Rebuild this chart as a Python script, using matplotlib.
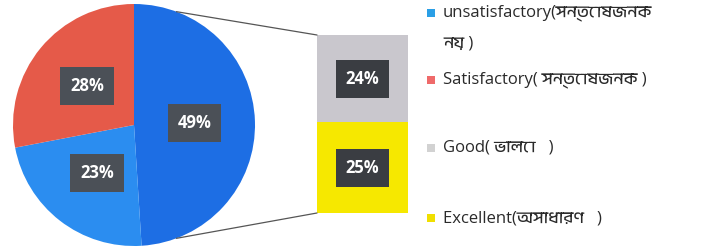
import numpy as np
import matplotlib
matplotlib.use("Agg")
import matplotlib.pyplot as plt
from matplotlib.patches import ConnectionPatch, Rectangle

plt.rcParams['font.family'] = ['Open Sans', 'Anek Bangla', 'FreeSans', 'DejaVu Sans']

# pie data (clockwise from top)
pie_vals = [49, 23, 28]
pie_colors = ['#1d6ee4', '#2b8df0', '#e55a49']

# bar of pie: bottom to top
bar_names = ['Excellent', 'Good']
bar_vals = [25, 24]
bar_colors = ['#f6e800', '#c9c7cd']

legend_labels = ['unsatisfactory(সন্তোষজনক\nনয় )', 'Satisfactory( সন্তোষজনক )',
                 'Good( ভালো   )', 'Excellent(অসাধারণ   )']
legend_colors = ['#2a9fe6', '#ef6a6a', '#d2d2d2', '#f0df00']

W, H = 706, 249
fig = plt.figure(figsize=(W / 100, H / 100), dpi=100)

# pie
ax1 = fig.add_axes([13 / W, 3 / H, 242 / W, 242 / H])
wedges, _, pcts = ax1.pie(pie_vals, colors=pie_colors, startangle=90, counterclock=False,
                          autopct='%d%%', pctdistance=0.5, radius=1,
                          textprops=dict(color='white', fontsize=12, fontweight='bold'))
for t in pcts:
    t.set_bbox(dict(boxstyle='square,pad=0.6', fc='#4b5057', ec='none'))
ax1.set_xlim(-1, 1)
ax1.set_ylim(-1, 1)
ax1.set_aspect('equal')
ax1.axis('off')

# bar
ax2 = fig.add_axes([317 / W, 36 / H, 91 / W, 178 / H])
bottom = 0
for name, v, c in zip(bar_names, bar_vals, bar_colors):
    ax2.bar(0, v, width=1, bottom=bottom, color=c, edgecolor='none')
    ax2.text(0, bottom + v / 2, f'{v}%', ha='center', va='center', color='white',
             fontsize=12, fontweight='bold',
             bbox=dict(boxstyle='square,pad=0.6', fc='#3a3d42', ec='none'))
    bottom += v
ax2.set_xlim(-0.5, 0.5)
ax2.set_ylim(0, sum(bar_vals))
ax2.axis('off')

# connecting lines
r_ang = np.deg2rad(69.5)
for sgn, yb in [(1, sum(bar_vals)), (-1, 0)]:
    con = ConnectionPatch(xyA=(-0.5, yb), coordsA=ax2.transData,
                          xyB=(np.cos(r_ang), sgn * np.sin(r_ang)), coordsB=ax1.transData,
                          color='#555555', lw=0.9)
    fig.add_artist(con)

# legend
ys = [13, 80, 148, 218]
for lab, c, y in zip(legend_labels, legend_colors, ys):
    fig.add_artist(Rectangle((427 / W, 1 - (y + 4) / H), 8 / W, 8 / H, transform=fig.transFigure,
                             fc=c, ec='none'))
    if '\n' in lab:
        fig.text(443 / W, 1 - (y - 9) / H, lab, ha='left', va='top',
                 fontsize=12, color='#2a2a2a', linespacing=2.2)
    else:
        fig.text(443 / W, 1 - y / H, lab, ha='left', va='center',
                 fontsize=12, color='#2a2a2a')

fig.savefig('out.png', dpi=100)
